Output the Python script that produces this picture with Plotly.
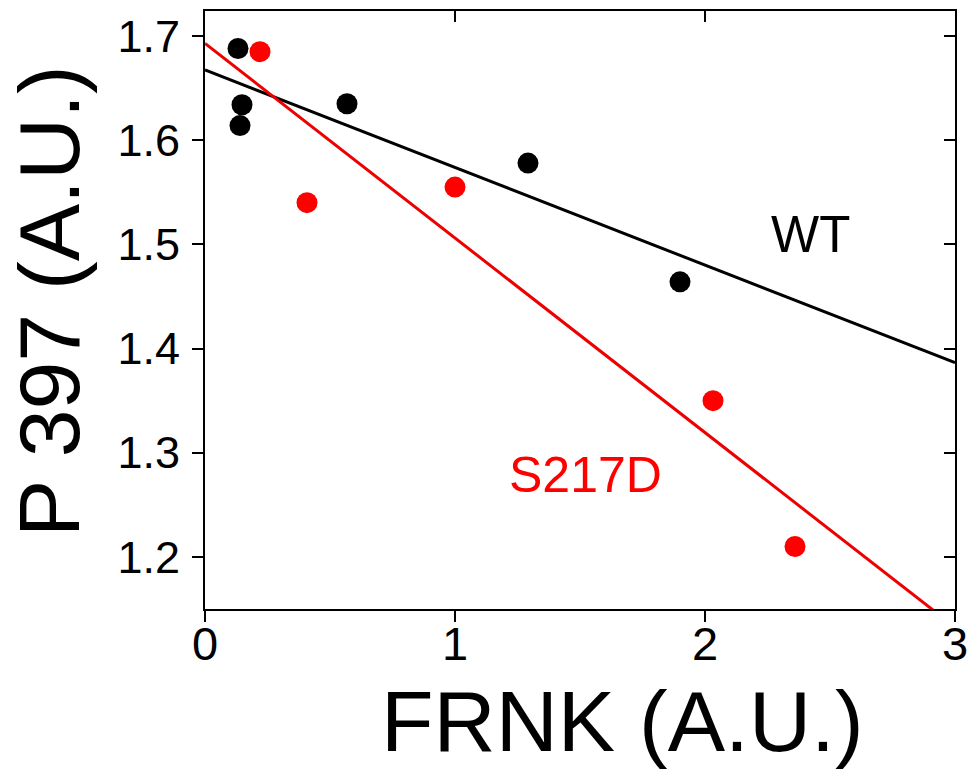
import numpy as np
import plotly.graph_objects as go

# Data
wt_x = [0.132, 0.148, 0.140, 0.568, 1.292, 1.900]
wt_y = [1.688, 1.634, 1.614, 1.635, 1.578, 1.464]
s217d_x = [0.220, 0.408, 1.000, 2.032, 2.360]
s217d_y = [1.685, 1.540, 1.555, 1.350, 1.210]

x_ticks = [0, 1, 2, 3]
y_ticks = [1.2, 1.3, 1.4, 1.5, 1.6, 1.7]
x_range = [0, 3]
y_range = [1.15, 1.724]

FONT = "Liberation Sans, Arial, sans-serif"

fit_x = np.array(x_range, dtype=float)
wt_fit = np.polyfit(wt_x, wt_y, 1)
s_fit = np.polyfit(s217d_x, s217d_y, 1)

fig = go.Figure()
fig.add_trace(go.Scatter(x=fit_x, y=np.polyval(wt_fit, fit_x), mode="lines",
                         line=dict(color="black", width=3), showlegend=False))
fig.add_trace(go.Scatter(x=fit_x, y=np.polyval(s_fit, fit_x), mode="lines",
                         line=dict(color="#ee0000", width=3), showlegend=False))
fig.add_trace(go.Scatter(x=wt_x, y=wt_y, mode="markers",
                         marker=dict(color="black", size=21), showlegend=False))
fig.add_trace(go.Scatter(x=s217d_x, y=s217d_y, mode="markers",
                         marker=dict(color="#ff0000", size=21), showlegend=False))
# invisible traces for mirrored inside-tick axes and the label axis
fig.add_trace(go.Scatter(x=[None], y=[None], xaxis="x2", yaxis="y2",
                         mode="markers", showlegend=False, hoverinfo="skip"))
fig.add_trace(go.Scatter(x=[None], y=[None], xaxis="x3", yaxis="y",
                         mode="markers", showlegend=False, hoverinfo="skip"))

fig.add_annotation(x=2.42, y=1.509, text="WT", showarrow=False,
                   font=dict(family=FONT, size=51, color="black"))
fig.add_annotation(x=1.52, y=1.279, text="S217D", showarrow=False,
                   font=dict(family=FONT, size=50, color="#ff0000"))

# axis titles as annotations (placed like the reference)
fig.add_annotation(xref="paper", yref="paper", x=0.557, y=-0.187,
                   xanchor="center", yanchor="middle", showarrow=False,
                   text="FRNK (A.U.)", font=dict(family=FONT, size=86, color="black"))
fig.add_annotation(xref="paper", yref="paper", x=-0.208, y=0.515,
                   xanchor="center", yanchor="middle", showarrow=False, textangle=-90,
                   text="P 397 (A.U.)", font=dict(family=FONT, size=86, color="black"))

axis_common = dict(showgrid=False, zeroline=False, linecolor="black", linewidth=2,
                   tickcolor="black", tickwidth=2, ticklen=11)

fig.update_layout(
    width=967, height=776,
    margin=dict(l=205, r=12, t=11, b=167, autoexpand=False),
    paper_bgcolor="white", plot_bgcolor="white",
    font=dict(family=FONT, color="black"),
    xaxis=dict(range=x_range, tickvals=x_ticks, ticks="outside", showline=True,
               mirror=True, showticklabels=False, **axis_common),
    xaxis3=dict(range=x_range, tickvals=x_ticks, ticks="", overlaying="x",
                side="bottom", anchor="y", showline=False, showgrid=False,
                zeroline=False, ticklabelstandoff=3, ticklabeloverflow="allow",
                tickfont=dict(family=FONT, size=47)),
    yaxis=dict(range=y_range, tickvals=y_ticks, ticks="outside", showline=True,
               mirror=True, tickformat=".1f", ticklabelstandoff=3,
               tickfont=dict(family=FONT, size=45),
               **axis_common),
    xaxis2=dict(range=x_range, tickvals=x_ticks, ticks="inside", overlaying="x",
                side="top", showticklabels=False, showline=False, **axis_common),
    yaxis2=dict(range=y_range, tickvals=y_ticks, ticks="inside", overlaying="y",
                side="right", showticklabels=False, showline=False, **axis_common),
)

fig.write_html("out.html", config={"displayModeBar": False},
               post_script="document.body.style.margin='0';")
